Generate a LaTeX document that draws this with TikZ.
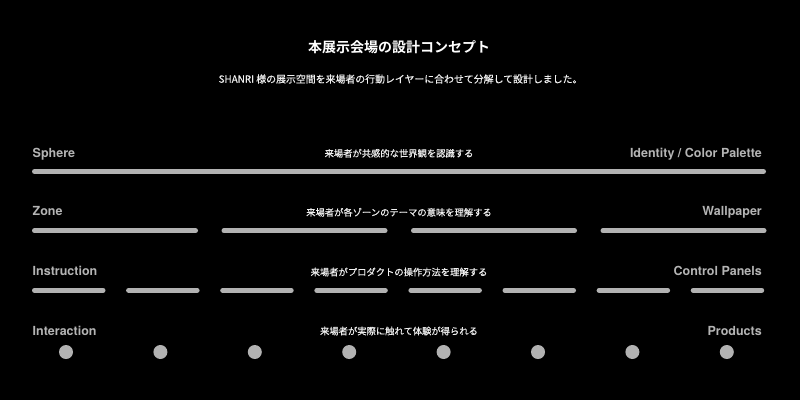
\documentclass[tikz,border=0pt]{standalone}
\usepackage{fontspec}
\setmainfont{TeX Gyre Heros}
\newfontfamily\jpfont{Noto Sans CJK JP}[FakeBold=0.3]
\newfontfamily\jpbold{Noto Sans CJK JP}[BoldFont={* Bold}]
\definecolor{labelgrey}{HTML}{B4B4B4}
\definecolor{bargrey}{HTML}{B2B2B2}
\definecolor{jpwhite}{HTML}{F0F0F0}
\begin{document}
\begin{tikzpicture}[x=1pt,y=-1pt,
  lbl/.style={text=labelgrey,font=\fontsize{12.5}{14}\selectfont\bfseries,inner sep=0pt},
  ctext/.style={text=jpwhite,font=\jpfont\fontsize{9.3}{11}\selectfont,inner sep=0pt,anchor=center},
  barline/.style={draw=bargrey,line width=5pt,line cap=round},
  dotnode/.style={circle,fill=bargrey,minimum size=14pt,inner sep=0pt}]
\fill[black] (0,0) rectangle (800,400);
\useasboundingbox (0,0) rectangle (800,400);
% title
\node[text=white,font=\jpbold\bfseries\fontsize{14}{16}\selectfont,inner sep=0pt] (title) at (399,47) {本展示会場の設計コンセプト};
\node[text=jpwhite,font=\jpfont\fontsize{9.9}{11}\selectfont,inner sep=0pt] (sub) at (400.5,79) {SHANRI 様の展示空間を来場者の行動レイヤーに合わせて分解して設計しました。};
% row 1
\node[lbl,anchor=base west] (l1) at (32.5,157) {Sphere};
\node[lbl,anchor=base east] (r1) at (762,157) {Identity / Color Palette};
\node[ctext] (c1) at (399,153.3) {来場者が共感的な世界観を認識する};
\coordinate (s1a) at (34.5,171.5);
\coordinate (s1b) at (763.5,171.5);
\draw[barline] (s1a) -- (s1b);
% row 2
\node[lbl,anchor=base west] (l2) at (32.5,215.5) {Zone};
\node[lbl,anchor=base east] (r2) at (762,215.5) {Wallpaper};
\node[ctext] (c2) at (399,212.3) {来場者が各ゾーンのテーマの意味を理解する};
\foreach \i in {0,1,2,3}{
  \coordinate (z\i a) at ({34.5+189.5*\i},230.8);
  \coordinate (z\i b) at ({195.5+189.5*\i},230.8);
  \draw[barline] (z\i a) -- (z\i b);
}
% row 3
\node[lbl,anchor=base west] (l3) at (32.5,275.7) {Instruction};
\node[lbl,anchor=base east] (r3) at (762,275.7) {Control Panels};
\node[ctext] (c3) at (399,272) {来場者がプロダクトの操作方法を理解する};
\foreach \i in {0,...,7}{
  \coordinate (p\i a) at ({34.5+94.1*\i},290.3);
  \coordinate (p\i b) at ({103+94.1*\i},290.3);
  \draw[barline] (p\i a) -- (p\i b);
}
% row 4
\node[lbl,anchor=base west] (l4) at (32.5,335) {Interaction};
\node[lbl,anchor=base east] (r4) at (762,335) {Products};
\node[ctext] (c4) at (399,331) {来場者が実際に触れて体験が得られる};
\foreach \i in {0,...,7}{
  \node[dotnode] (d\i) at ({66+94.4*\i},352) {};
}
\end{tikzpicture}
\end{document}
